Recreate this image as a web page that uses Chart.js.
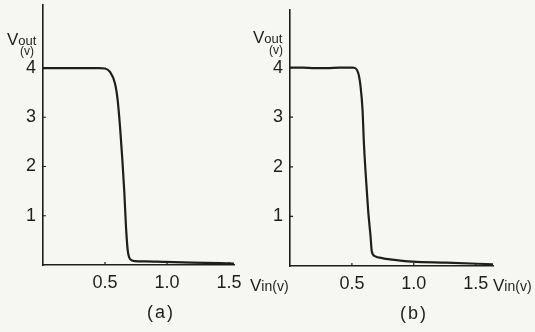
<!DOCTYPE html>
<html>
<head>
<meta charset="utf-8">
<script src="https://cdn.jsdelivr.net/npm/chart.js@4/dist/chart.umd.min.js"></script>
<style>
    body { margin: 0; width: 535px; height: 332px; overflow: hidden; position: relative;
           background: #f6f6f3; color: #1e1e1e; font-family: "Liberation Sans", Arial, sans-serif; }
    canvas { position: absolute; top: 0; }
    .lbl { position: absolute; line-height: 1; white-space: nowrap; font-size: 17px; }
    .sub { font-size: 13px; }
    .cap { font-size: 18px; letter-spacing: 2px; }
</style>
</head>
<body>
<canvas id="chartA" width="260" height="300" style="left:0"></canvas>
<canvas id="chartB" width="287" height="300" style="left:248px"></canvas>

<!-- 軸ラベル -->
<div class="lbl" style="left:7px;top:31px">V<span class="sub">out</span></div>
<div class="lbl sub" style="left:20px;top:45px;font-size:12px">(v)</div>
<div class="lbl" style="left:250px;top:277px">V<span style="font-size:14px">in(v)</span></div>
<div class="lbl cap" style="left:147px;top:303px">(a)</div>

<div class="lbl" style="left:253px;top:29px">V<span class="sub">out</span></div>
<div class="lbl sub" style="left:269px;top:44px;font-size:12px">(v)</div>
<div class="lbl" style="left:493px;top:277px">V<span style="font-size:14px">in(v)</span></div>
<div class="lbl cap" style="left:400px;top:304px">(b)</div>

<script>
// === 目盛り ===
const xTicks = [0.5, 1.0, 1.5];
const yTicks = [1, 2, 3, 4];

// === (a) 入出力特性 ===
const vinA  = [0, 0.45, 0.5, 0.54, 0.58, 0.602, 0.621, 0.64, 0.656, 0.669, 0.683, 0.702, 0.742, 0.823, 0.97, 1.2, 1.54];
const voutA = [4, 4, 3.99, 3.92, 3.69, 3.35, 2.81, 2.13, 1.46, 0.78, 0.3, 0.12, 0.08, 0.075, 0.065, 0.05, 0.03];

// === (b) 入出力特性 ===
const vinB  = [0, 0.1, 0.2, 0.3, 0.4, 0.51, 0.551, 0.57, 0.586, 0.597, 0.613, 0.631, 0.651, 0.661, 0.685, 0.752, 0.806, 0.99, 1.26, 1.64];
const voutB = [4.0, 4.0, 3.99, 3.99, 4.0, 4.0, 3.89, 3.62, 3.15, 2.48, 1.8, 1.13, 0.59, 0.29, 0.2, 0.155, 0.135, 0.087, 0.067, 0.035];

const INK = '#1e1e1e';
const FONT = '"Liberation Sans", Arial, sans-serif';

// 軸の内側に小さな目盛り線を描く
const tickMarks = {
    id: 'tickMarks',
    afterDraw(chart) {
        const { ctx, scales: { x, y } } = chart;
        ctx.save();
        ctx.strokeStyle = INK;
        ctx.lineWidth = 1.2;
        ctx.beginPath();
        xTicks.forEach(v => {
            const px = x.getPixelForValue(v);
            ctx.moveTo(px, x.top);
            ctx.lineTo(px, x.top - 3);
        });
        yTicks.forEach(v => {
            const py = y.getPixelForValue(v);
            ctx.moveTo(y.right, py);
            ctx.lineTo(y.right + 3, py);
        });
        ctx.stroke();
        ctx.restore();
    }
};

/**
 * 伝達特性グラフを作成する
 */
const makeChart = (id, vin, vout, frame) => {
    return new Chart(document.getElementById(id), {
        type: 'line',
        data: {
            datasets: [{
                data: vin.map((v, i) => ({ x: v, y: vout[i] })),
                borderColor: INK,
                borderWidth: 2.2,
                pointRadius: 0,
                fill: false,
                cubicInterpolationMode: 'monotone'
            }]
        },
        options: {
            responsive: false,
            animation: false,
            layout: { padding: { left: 0, top: frame.top, right: frame.right, bottom: 0 } },
            plugins: { legend: { display: false }, tooltip: { enabled: false } },
            scales: {
                x: {
                    type: 'linear',
                    min: 0,
                    max: frame.xMax,
                    grid: { display: false, drawTicks: false },
                    border: { display: true, color: INK, width: 1.6 },
                    afterBuildTicks: scale => { scale.ticks = xTicks.map(v => ({ value: v })); },
                    afterFit: scale => {
                        scale.height = frame.xh;
                        scale.paddingLeft = 0;
                        scale.paddingRight = 0;
                    },
                    ticks: {
                        autoSkip: false,
                        maxRotation: 0,
                        padding: 7,
                        color: INK,
                        font: { family: FONT, size: 18 },
                        callback: v => v.toFixed(1)
                    }
                },
                y: {
                    min: 0,
                    max: frame.yMax,
                    grid: { display: false, drawTicks: false },
                    border: { display: true, color: INK, width: 1.6 },
                    afterBuildTicks: scale => { scale.ticks = yTicks.map(v => ({ value: v })); },
                    afterFit: scale => {
                        scale.width = frame.yw;
                        scale.paddingTop = 0;
                        scale.paddingBottom = 0;
                    },
                    ticks: {
                        padding: 7,
                        color: INK,
                        font: { family: FONT, size: 18 },
                        callback: v => String(v)
                    }
                }
            }
        },
        plugins: [tickMarks]
    });
};

makeChart('chartA', vinA, voutA, { top: 5, right: 26, xh: 35, yw: 43, xMax: 1.54, yMax: 5.28 });
makeChart('chartB', vinB, voutB, { top: 10, right: 42, xh: 34, yw: 42, xMax: 1.64, yMax: 5.16 });
</script>
</body>
</html>
